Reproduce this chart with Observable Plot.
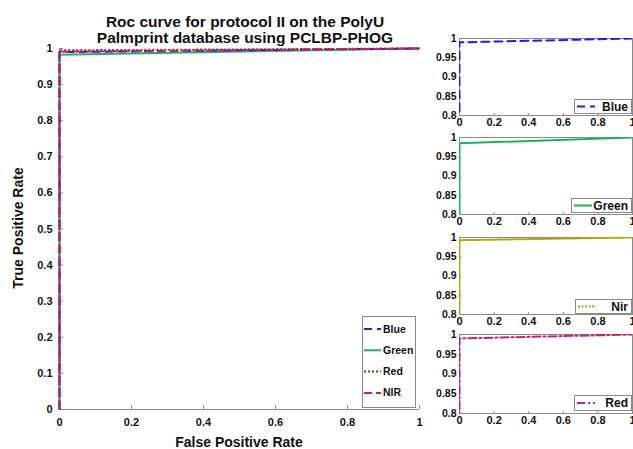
<!DOCTYPE html>
<html><head><meta charset="utf-8">
<script src="https://cdn.jsdelivr.net/npm/d3@7"></script>
<script src="https://cdn.jsdelivr.net/npm/@observablehq/plot@0.6"></script>
<style>
body{margin:0;background:#fff;font-family:"Liberation Sans",Arial,sans-serif;}
#fig{position:relative;width:633px;height:449px;overflow:hidden;background:#fff;}
#fig > *{position:absolute;}
.t{font-weight:bold;color:#111;white-space:nowrap;}
</style></head><body><div id="fig"></div>
<script>
// ---------- data ----------
const fpr = [0, 0, 1];
// main chart series
const mainNames = ["Green", "Blue", "Red", "NIR"];
const mainGreenTpr = [0, 0.983, 1];
const mainBlueTpr = [0, 0.99, 1];
const mainRedTpr = [0, 0.995, 1];
const mainNirTpr = [0, 0.991, 1];
// sub charts
const subNames = ["Blue", "Green", "Nir", "Red"];
const subBlueTpr = [0, 0.99, 1];
const subGreenTpr = [0, 0.985, 1];
const subNirTpr = [0, 0.993, 1];
const subRedTpr = [0, 0.99, 1];
// ticks
const mainXTicks = [0, 0.2, 0.4, 0.6, 0.8, 1];
const mainYTicks = [0, 0.1, 0.2, 0.3, 0.4, 0.5, 0.6, 0.7, 0.8, 0.9, 1];
const subXTicks = [0, 0.2, 0.4, 0.6, 0.8, 1];
const subYTicks = [0.8, 0.85, 0.9, 0.95, 1];
const legendOrder = ["Blue", "Green", "Red", "NIR"];
// text
const titleLines = ["Roc curve for protocol II on the PolyU", "Palmprint database using PCLBP-PHOG"];
const xLabel = "False Positive Rate";
const yLabel = "True Positive Rate";

// ---------- styles ----------
const style = {
  Blue:  {stroke: "#1c1cff", dash: "8,5", w: 2},
  Green: {stroke: "#22b35a", dash: null, w: 2},
  Red:   {stroke: "#7a2e2e", dash: "2,2", w: 2},
  NIR:   {stroke: "#cc1f6a", dash: "8,4", w: 2}
};
const subStyle = {
  Blue:  {stroke: "#1c1cff", dash: "8,5", w: 2},
  Green: {stroke: "#22b35a", dash: null, w: 2},
  Nir:   {stroke: "#b5a50a", dash: "2,1.5", w: 2},
  Red:   {stroke: "#cc1f6a", dash: "8,3,2,3", w: 2}
};
const AX = "#8a8a8a";
const FONT = "'Liberation Sans', Arial, sans-serif";
const rows = (name, tpr) => fpr.map((x, i) => ({series: name, x, y: tpr[i]}));
const mainData = {Green: rows("Green", mainGreenTpr), Blue: rows("Blue", mainBlueTpr), Red: rows("Red", mainRedTpr), NIR: rows("NIR", mainNirTpr)};
const subData = {Blue: rows("Blue", subBlueTpr), Green: rows("Green", subGreenTpr), Nir: rows("Nir", subNirTpr), Red: rows("Red", subRedTpr)};

const fig = document.getElementById("fig");
const fmt = d => String(d);

// ---------- main plot ----------
const mW = 440, mH = 449, mL = 59, mR = 21, mT = 48, mB = 40;
const mainPlot = Plot.plot({
  width: mW, height: mH, marginLeft: mL, marginRight: mR, marginTop: mT, marginBottom: mB,
  x: {domain: [0, 1]}, y: {domain: [0, 1]},
  style: {fontFamily: FONT, fontSize: "11px", fontWeight: "bold", background: "transparent", color: "#111", overflow: "visible"},
  marks: [
    Plot.axisX(mainXTicks, {tickSize: 0, tickPadding: 9, tickFormat: fmt, label: null}),
    Plot.axisY(mainYTicks, {tickSize: 0, tickPadding: 7, tickFormat: fmt, label: null}),
    Plot.tickX(mainXTicks.slice(1), {x: d => d, stroke: AX, insetTop: mH - mT - mB - 4}),
    Plot.tickY(mainYTicks.slice(1), {y: d => d, stroke: AX, insetRight: mW - mL - mR - 4}),
    Plot.ruleX([0], {stroke: AX}),
    Plot.ruleY([0], {stroke: AX}),
    ...mainNames.map(n => Plot.line(mainData[n], {x: "x", y: "y", stroke: style[n].stroke, strokeWidth: style[n].w, strokeDasharray: style[n].dash, strokeLinecap: "butt"}))
  ]
});
mainPlot.style.left = "0px"; mainPlot.style.top = "0px";
fig.appendChild(mainPlot);

// ---------- sub plots ----------
const subTops = [32, 131, 231, 328];
const subInner = [77, 77, 77, 79];
subNames.forEach((n, i) => {
  const h = 6 + subInner[i] + 18;
  const p = Plot.plot({
    width: 223, height: h, marginLeft: 49, marginRight: 1, marginTop: 6, marginBottom: 18,
    x: {domain: [0, 1]}, y: {domain: [0.8, 1]},
    style: {fontFamily: FONT, fontSize: "10.5px", fontWeight: "bold", background: "transparent", color: "#111", overflow: "visible"},
    marks: [
      Plot.frame({stroke: AX}),
      Plot.axisX(subXTicks, {tickSize: 0, tickPadding: 3, tickFormat: fmt, label: null, fontSize: 11}),
      Plot.axisY(subYTicks, {tickSize: 0, tickPadding: 3, tickFormat: fmt, label: null}),
      Plot.tickX(subXTicks, {x: d => d, stroke: AX, insetTop: subInner[i] - 2}),
      Plot.tickY(subYTicks, {y: d => d, stroke: AX, insetRight: 223 - 50 - 2}),
      Plot.line(subData[n], {x: "x", y: "y", stroke: subStyle[n].stroke, strokeWidth: subStyle[n].w, strokeDasharray: subStyle[n].dash, clip: true})
    ]
  });
  p.style.left = "410px"; p.style.top = subTops[i] + "px";
  fig.appendChild(p);
});

// ---------- title & labels ----------
function addText(txt, css) {
  const d = document.createElement("div");
  d.className = "t"; d.textContent = txt;
  Object.assign(d.style, css);
  fig.appendChild(d);
  return d;
}
titleLines.forEach((t, i) => {
  addText(t, {left: "245px", top: (14 + i * 16) + "px", fontSize: "15.5px", lineHeight: "15px", transform: "translateX(-50%)"});
});
addText(xLabel, {left: "239px", top: "435px", fontSize: "14px", lineHeight: "14px", transform: "translateX(-50%)"});
addText(yLabel, {left: "18px", top: "228px", fontSize: "14px", lineHeight: "14px", transform: "translate(-50%,-50%) rotate(-90deg)"});

// ---------- main legend ----------
{
  const svg = d3.create("svg").attr("width", 54).attr("height", 92)
    .style("left", "362px").style("top", "316px");
  svg.append("rect").attr("x", 0.5).attr("y", 0.5).attr("width", 53).attr("height", 91)
    .attr("fill", "#fff").attr("stroke", AX);
  legendOrder.forEach((n, i) => {
    const y = 13 + i * 21.3;
    svg.append("line").attr("x1", 2).attr("x2", 19).attr("y1", y).attr("y2", y)
      .attr("stroke", style[n].stroke).attr("stroke-width", 2).attr("stroke-dasharray", style[n].dash);
    svg.append("text").attr("x", 21).attr("y", y + 3.5).text(n)
      .attr("font-family", FONT).attr("font-weight", "bold").attr("font-size", 10.5).attr("fill", "#111");
  });
  fig.appendChild(svg.node());
}

// ---------- sub legends ----------
const subLegPos = [[574, 99, 57, 14], [571, 198, 60, 14], [575, 299, 56, 14], [574, 395, 57, 15]];
subNames.forEach((n, i) => {
  const [x, y, w, h] = subLegPos[i];
  const svg = d3.create("svg").attr("width", w + 1).attr("height", h + 1)
    .style("left", x + "px").style("top", y + "px");
  svg.append("rect").attr("x", 0.5).attr("y", 0.5).attr("width", w).attr("height", h)
    .attr("fill", "#fff").attr("stroke", AX);
  const cy = h / 2 + 0.5;
  svg.append("line").attr("x1", 3).attr("x2", 21).attr("y1", cy).attr("y2", cy)
    .attr("stroke", subStyle[n].stroke).attr("stroke-width", 2).attr("stroke-dasharray", subStyle[n].dash);
  svg.append("text").attr("x", w - 3).attr("y", cy + 4.3).text(n).attr("text-anchor", "end")
    .attr("font-family", FONT).attr("font-weight", "bold").attr("font-size", 12).attr("fill", "#111");
  fig.appendChild(svg.node());
});
</script></body></html>
